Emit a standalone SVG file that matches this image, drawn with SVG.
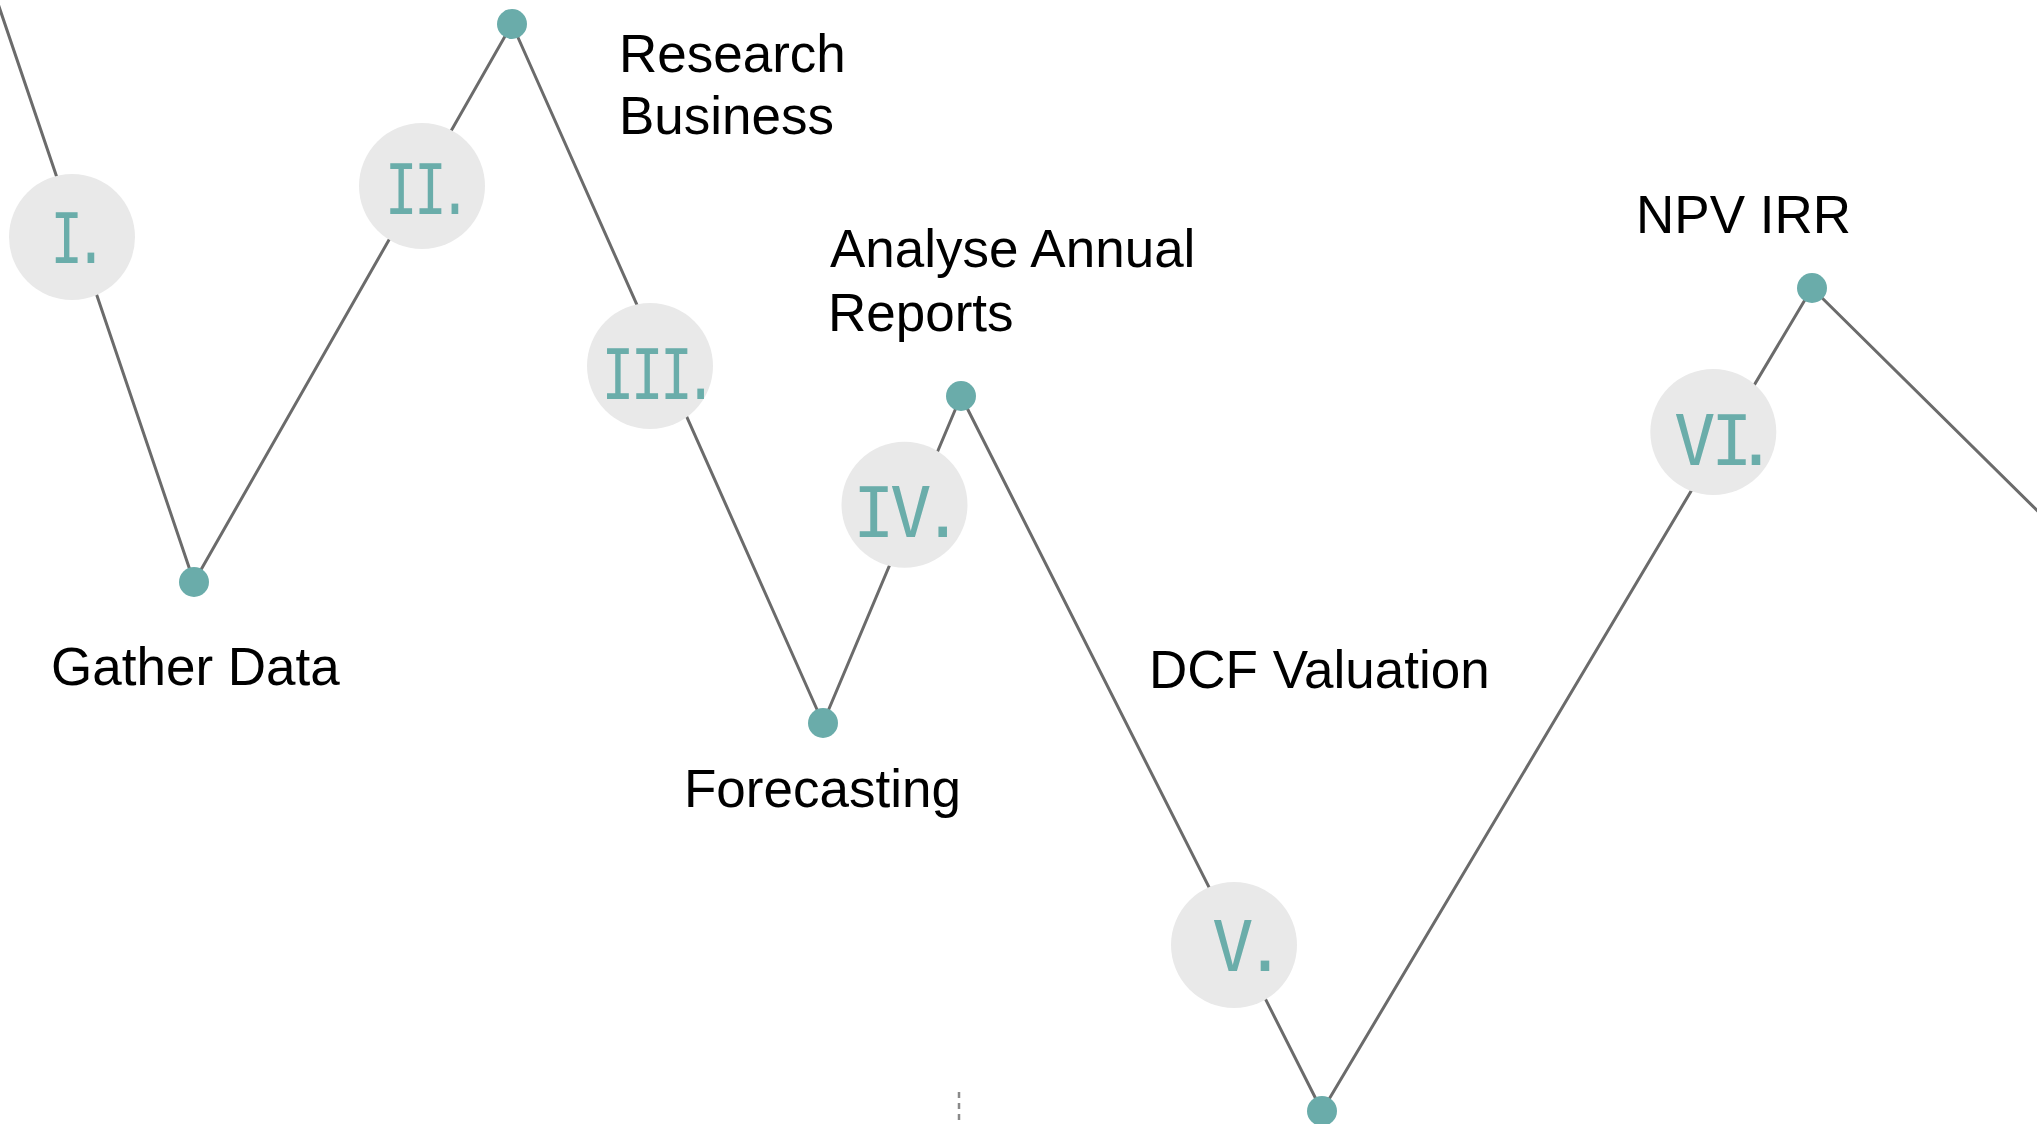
<svg xmlns="http://www.w3.org/2000/svg" width="2037" height="1124" viewBox="0 0 2037 1124">
<style>
  .line { fill: none; stroke: #6b6b6b; stroke-width: 3; stroke-linejoin: round; }
  .dot { fill: #6aacaa; }
  .badge { fill: #e9e9e9; }
  .num { font-family: "DejaVu Sans Mono", "Liberation Mono", monospace; font-size: 69px; fill: #6aadaa; text-anchor: middle; }
  .label { font-family: "Liberation Sans", Arial, sans-serif; font-size: 53px; fill: #000; }
  .tick { stroke: #8a8a8a; stroke-width: 2.5; stroke-dasharray: 6 5; }
</style>
<rect width="2037" height="1124" fill="#ffffff"/>
<g id="connectors">
  <polyline class="line" points="-10,-20 194,582 512,24 823,723 961,396 1322,1111 1812,288 2060,533"/>
  <line class="tick" x1="959" y1="1092" x2="959" y2="1124"/>
</g>
<g id="dot-gather-data">
  <circle class="dot" cx="194" cy="582" r="15"/>
  <text class="label" x="51" y="685">Gather Data</text>
</g>
<g id="dot-research-business">
  <circle class="dot" cx="512" cy="24" r="15"/>
  <text class="label" x="619" y="72">Research</text>
  <text class="label" x="619" y="134">Business</text>
</g>
<g id="dot-forecasting">
  <circle class="dot" cx="823" cy="723" r="15"/>
  <text class="label" x="684" y="807">Forecasting</text>
</g>
<g id="dot-analyse-annual-reports">
  <circle class="dot" cx="961" cy="396" r="15"/>
  <text class="label" x="830" y="267">Analyse Annual</text>
  <text class="label" x="828" y="331">Reports</text>
</g>
<g id="dot-dcf-valuation">
  <circle class="dot" cx="1322" cy="1111" r="15"/>
  <text class="label" x="1149" y="688">DCF Valuation</text>
</g>
<g id="dot-npv-irr">
  <circle class="dot" cx="1812" cy="288" r="15"/>
  <text class="label" x="1636" y="233">NPV IRR</text>
</g>
<g id="step-1">
  <circle class="badge" cx="72" cy="237" r="63"/>
  <text class="num" transform="scale(0.78,1)" x="85.5 116.7" y="263.3">I.</text>
</g>
<g id="step-2">
  <circle class="badge" cx="422" cy="186" r="63"/>
  <text class="num" transform="scale(0.78,1)" x="514.4 551.9 583.3" y="214">II.</text>
</g>
<g id="step-3">
  <circle class="badge" cx="650" cy="366" r="63"/>
  <text class="num" transform="scale(0.78,1)" x="792.3 829.9 867.1 898.3" y="398.7">III.</text>
</g>
<g id="step-4">
  <circle class="badge" cx="904.5" cy="504.7" r="63"/>
  <text class="num" x="873.8 910.8 942.7" y="536.7">IV.</text>
</g>
<g id="step-5">
  <circle class="badge" cx="1234" cy="945" r="63"/>
  <text class="num" x="1232.8 1265" y="971">V.</text>
</g>
<g id="step-6">
  <circle class="badge" cx="1713.3" cy="432" r="63"/>
  <text class="num" x="1694.7 1731.7 1756" y="465">VI.</text>
</g>
</svg>
